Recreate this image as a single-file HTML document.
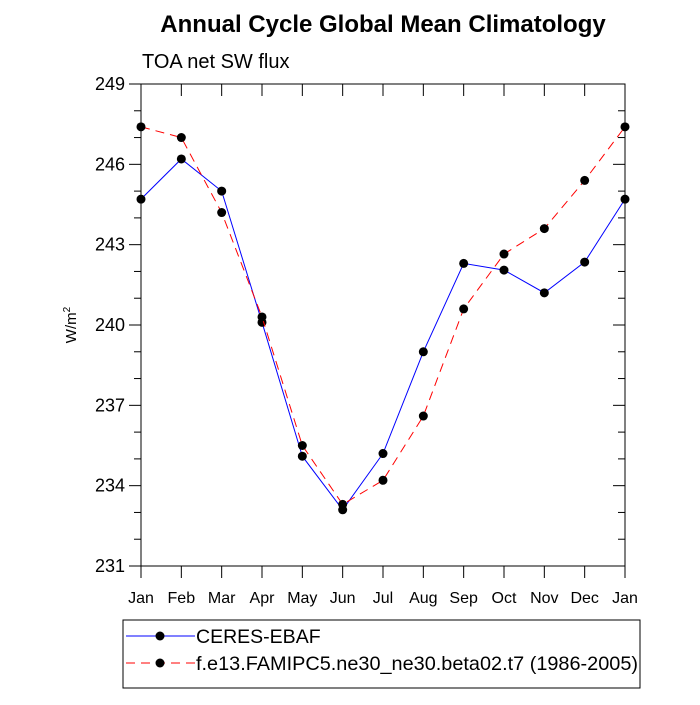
<!DOCTYPE html>
<html><head><meta charset="utf-8"><style>
body{margin:0;background:#fff;}
svg text{font-family:"Liberation Sans",sans-serif;}
</style></head><body>
<svg id="chart" width="700" height="700">
<text x="383" y="32" text-anchor="middle" font-size="24" font-weight="bold">Annual Cycle Global Mean Climatology</text>
<text x="142" y="68" font-size="20">TOA net SW flux</text>
<text transform="translate(76,325) rotate(-90)" text-anchor="middle" font-size="15">W/m<tspan dy="-6" font-size="10">2</tspan></text>
<g id="axes"></g>
<g id="series"></g>
<rect x="123" y="620" width="517" height="68" fill="none" stroke="#000" stroke-width="1"/>
<g>
<line x1="126" y1="636" x2="195" y2="636" stroke="#00f" stroke-width="1"/>
<circle cx="160" cy="636" r="4.5" fill="#000"/>
<text x="196" y="643" font-size="19.5">CERES-EBAF</text></g>
<g>
<line x1="126" y1="663" x2="195" y2="663" stroke="#f00" stroke-width="1" stroke-dasharray="9,6"/>
<circle cx="160" cy="663" r="4.5" fill="#000"/>
<text x="196" y="670" font-size="19.5" textLength="442" lengthAdjust="spacingAndGlyphs">f.e13.FAMIPC5.ne30_ne30.beta02.t7 (1986-2005)</text></g>
</svg>
<script>
const months=["Jan","Feb","Mar","Apr","May","Jun","Jul","Aug","Sep","Oct","Nov","Dec","Jan"];
const ceres=[244.7,246.2,245.0,240.1,235.1,233.1,235.2,239.0,242.3,242.05,241.2,242.35,244.7];
const model=[247.4,247.0,244.2,240.3,235.5,233.3,234.2,236.6,240.6,242.65,243.6,245.4,247.4];
const yTicks=[231,234,237,240,243,246,249];
const X0=141,X1=625,Y0=84,Y1=566,yMin=231,yMax=249;
const xs=i=>X0+(X1-X0)*i/(months.length-1);
const ys=v=>Y1-(v-yMin)/(yMax-yMin)*(Y1-Y0);
const NS="http://www.w3.org/2000/svg";
function mk(p,t,a){const e=document.createElementNS(NS,t);for(const k in a)e.setAttribute(k,a[k]);p.appendChild(e);return e;}
const ax=document.getElementById('axes');
const frame=mk(ax,'rect',{x:X0,y:Y0,width:X1-X0,height:Y1-Y0,fill:'none',stroke:'#000','stroke-width':1});


for(let v=yMin;v<=yMax;v++){
  const y=ys(v),maj=yTicks.includes(v),L=maj?12:7;
  mk(ax,'line',{x1:X0-L,y1:y,x2:X0,y2:y,stroke:'#000'});
  mk(ax,'line',{x1:X1,y1:y,x2:X1-L,y2:y,stroke:'#000'});
}
yTicks.forEach(v=>{
  const t=mk(ax,'text',{x:X0-16,y:ys(v)+6,'text-anchor':'end','font-size':18});
  t.textContent=v;
  
  
});
months.forEach((m,i)=>{
  const x=xs(i);
  mk(ax,'line',{x1:x,y1:Y1,x2:x,y2:Y1+12,stroke:'#000'});
  mk(ax,'line',{x1:x,y1:Y0,x2:x,y2:Y0+12,stroke:'#000'});
  const t=mk(ax,'text',{x:x,y:603,'text-anchor':'middle','font-size':16});
  t.textContent=m;
  
  
});
const sg=document.getElementById('series');
function draw(vals,col,dash,name){
  const g=mk(sg,'g',{});
  
  
  const pl=mk(g,'polyline',{points:vals.map((v,i)=>xs(i)+','+ys(v)).join(' '),fill:'none',stroke:col,'stroke-width':1});
  if(dash)pl.setAttribute('stroke-dasharray',dash);
  vals.forEach((v,i)=>{const c=mk(g,'circle',{cx:xs(i),cy:ys(v),r:4.5,fill:'#000'});
    
    });
}
draw(ceres,'#00f',null,'series-ceres');
draw(model,'#f00','9,6','series-model');
</script>
</body></html>
